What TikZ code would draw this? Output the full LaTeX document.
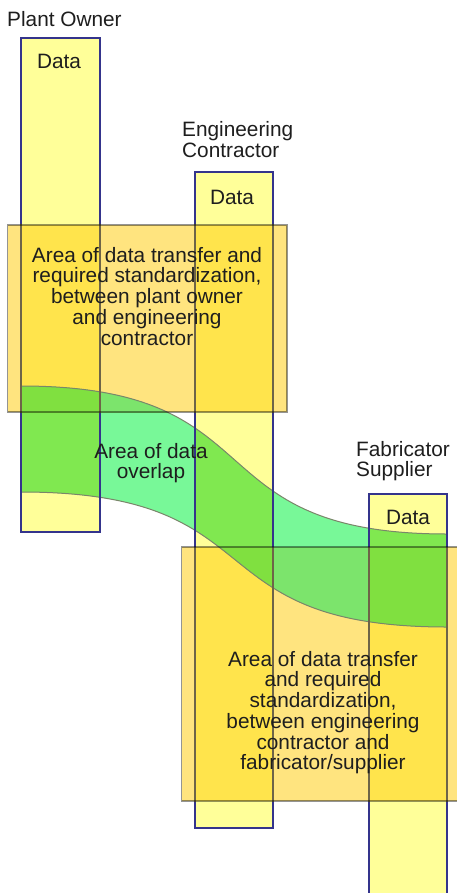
\documentclass[tikz,border=0pt]{standalone}
\usepackage{fontspec}
\setmainfont{Liberation Sans}
\definecolor{colfill}{HTML}{FFFF99}
\definecolor{colline}{HTML}{34348C}
\definecolor{colinbox}{HTML}{6E6448}
\definecolor{boxfill}{RGB}{255,203,0}
\definecolor{gw}{HTML}{78F898}
\definecolor{gy}{HTML}{80E850}
\definecolor{gbw}{HTML}{7CE46C}
\definecolor{gby}{HTML}{80E040}
\definecolor{bandline}{HTML}{7A866A}
\definecolor{txt}{HTML}{1E1E1E}
\begin{document}
\begin{tikzpicture}[x=1pt,y=-1pt,
  colA/.style={insert path={(21,38) rectangle (100,532)}},
  colB/.style={insert path={(195,172) rectangle (273,828)}},
  colC/.style={insert path={(369,494) rectangle (447,910)}},
  allcols/.style={colA,colB,colC},
  boxA/.style={insert path={(7.5,225) rectangle (287,412)}},
  boxB/.style={insert path={(181.5,547) rectangle (475,801)}},
  band/.style={insert path={(21,386) .. controls (280,386) and (190,534) .. (447,534) -- (447,627) .. controls (190,627) and (280,492) .. (21,492) -- cycle}},
  bandtop/.style={insert path={(21,386) .. controls (280,386) and (190,534) .. (447,534)}},
  bandbot/.style={insert path={(21,492) .. controls (280,492) and (190,627) .. (447,627)}},
  lbl/.style={font=\fontsize{20.8}{20.7}\selectfont, text=txt, inner sep=0pt},
  colborder/.style={draw=colline, line width=1.3pt},
  boxborder/.style={draw=black, draw opacity=0.42, line width=1.3pt}
]
\clip (0,0) rectangle (457,893);
\fill[white] (0,0) rectangle (457,893);
% columns
\fill[colfill][allcols];
% boxes
\fill[boxfill, fill opacity=0.5][boxA];
\fill[boxfill, fill opacity=0.5][boxB];
% band
\begin{scope}
  \clip (21,300) rectangle (447,700);
  \fill[gw][band];
  \begin{scope}
    \clip[allcols];
    \fill[gy][band];
  \end{scope}
  \begin{scope}
    \clip[boxA];
    \fill[gbw][band];
    \begin{scope}
      \clip[allcols];
      \fill[gby][band];
    \end{scope}
  \end{scope}
  \begin{scope}
    \clip[boxB];
    \fill[gbw][band];
    \begin{scope}
      \clip[allcols];
      \fill[gby][band];
    \end{scope}
  \end{scope}
\end{scope}
\draw[bandline, line width=1pt][bandtop];
\draw[bandline, line width=1pt][bandbot];
% column borders
\draw[colborder][colA];
\draw[colborder][colB];
\draw[colborder][colC];
\begin{scope}
  \clip[boxA];
  \draw[draw=colinbox, line width=1.3pt][allcols];
\end{scope}
\begin{scope}
  \clip[boxB];
  \draw[draw=colinbox, line width=1.3pt][allcols];
\end{scope}
% box borders
\draw[boxborder][boxA];
\draw[boxborder][boxB];
% labels
\node[lbl, anchor=base west] (po) at (7,27) {Plant Owner};
\node[lbl, anchor=north west, align=left] (ec) at (182,121.5) {Engineering\\Contractor};
\node[lbl, anchor=north west, align=left] (fs) at (356,441) {Fabricator\\Supplier};
\node[lbl, anchor=base] (d1) at (59,69) {Data};
\node[lbl, anchor=base] (d2) at (232,205) {Data};
\node[lbl, anchor=base] (d3) at (408,524) {Data};
\node[lbl, anchor=north, align=center] (t1) at (147,247) {Area of data transfer and\\required standardization,\\between plant owner\\and engineering\\contractor};
\node[lbl, anchor=north, align=center] (t2) at (151,443) {Area of data\\overlap};
\node[lbl, anchor=north, align=center] (t3) at (323,651) {Area of data transfer\\and required\\standardization,\\between engineering\\contractor and\\fabricator/supplier};
\end{tikzpicture}
\end{document}
